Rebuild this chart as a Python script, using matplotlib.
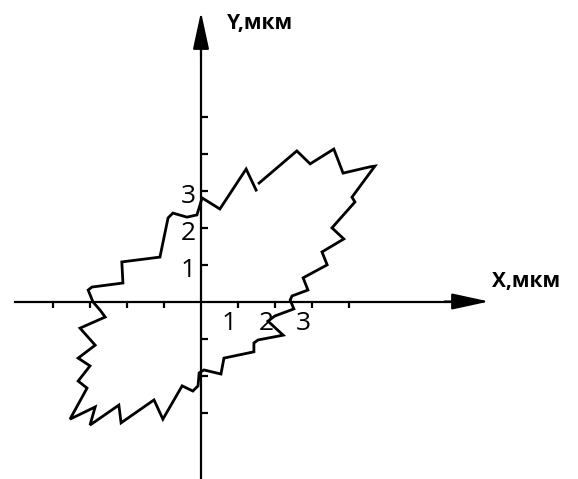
# %%
import numpy as np
import matplotlib
matplotlib.use("Agg")
import matplotlib.pyplot as plt
import matplotlib.transforms as mtransforms

# -------------------------------------------------------
#   контур частицы (мкм), обход по часовой стрелке,
#   начиная сразу после разрыва линии у верхнего края
# -------------------------------------------------------
contour_x = [1.57, 2.59, 2.95, 3.59, 3.84, 4.57, 4.70, 4.08, 4.16, 3.54,
             3.86, 3.27, 3.41, 2.76, 2.89, 2.46, 2.41, 2.51, 2.00, 1.81,
             2.22, 1.54, 1.43, 1.43, 0.62, 0.54, 0.08, -0.05, -0.08, -0.22,
             -0.51, -1.03, -1.27, -2.16, -2.22, -3.00, -2.86, -3.54, -3.08, -3.32,
             -3.00, -3.32, -2.86, -3.27, -2.59, -2.73, -2.92, -3.05, -2.95, -2.11,
             -2.14, -1.11, -0.89, -0.76, -0.38, -0.11, 0.03, 0.51, 1.22, 1.49]
contour_y = [3.20, 4.07, 3.72, 4.12, 3.47, 3.64, 3.66, 2.82, 2.69, 1.99,
             1.69, 1.34, 0.99, 0.64, 0.31, 0.15, 0.04, -0.20, -0.39, -0.53,
             -0.91, -1.04, -1.12, -1.36, -1.53, -1.96, -1.85, -1.93, -2.28, -2.42,
             -2.28, -3.18, -2.66, -3.28, -2.80, -3.34, -2.85, -3.18, -2.34, -2.15,
             -1.74, -1.53, -1.18, -0.72, -0.42, -0.23, -0.01, 0.31, 0.39, 0.50,
             1.07, 1.20, 2.26, 2.39, 2.28, 2.34, 2.80, 2.50, 3.58, 3.01]

x_ticks = [-4, -3, -2, -1, 1, 2, 3, 4]
y_ticks = [-3, -2, -1, 1, 2, 3, 4, 5]
labeled = [1, 2, 3]
x_label = "X,мкм"
y_label = "Y,мкм"

# -------------------------------------------------------
#   масштаб: 37 px на 1 мкм, начало координат в (201, 301.5) px
# -------------------------------------------------------
W, H, DPI = 578, 479, 100
PX = 37.0
ox, oy = 201.0, 301.5

fig = plt.figure(figsize=(W / DPI, H / DPI), dpi=DPI)
ax = fig.add_axes([0, 0, 1, 1])
ax.set_xlim(-ox / PX, (W - ox) / PX)
ax.set_ylim(-(H - oy) / PX, oy / PX)
ax.set_facecolor("white")

x_start, x_end = (15 - ox) / PX, (489 - ox) / PX
y_top = (oy - 12) / PX
y_bottom = -(H - oy) / PX

# оси через начало координат
for side in ["top", "right"]:
    ax.spines[side].set_visible(False)
ax.spines["bottom"].set_position(("data", 0))
ax.spines["left"].set_position(("data", 0))
ax.spines["bottom"].set_bounds(x_start, x_end - 0.5)
ax.spines["left"].set_bounds(y_bottom, y_top - 0.5)
for side in ["bottom", "left"]:
    ax.spines[side].set_linewidth(1.6)
    ax.spines[side].set_zorder(1)

arrow = dict(arrowstyle="-|>,head_length=2.3,head_width=0.5", mutation_scale=10,
             lw=1.5, color="black", shrinkA=0, shrinkB=0)
ax.annotate("", xy=(x_end, 0), xytext=(x_end - 1.2, 0), arrowprops=arrow)
ax.annotate("", xy=(0, y_top), xytext=(0, y_top - 1.2), arrowprops=arrow)

num_font = ["Liberation Sans Narrow", "Open Sans", "DejaVu Sans"]

ax.set_xticks(x_ticks, [str(t) if t in labeled else "" for t in x_ticks])
ax.set_yticks(y_ticks, [str(t) if t in labeled else "" for t in y_ticks])
ax.tick_params(axis="x", direction="out", length=4, width=1.6, pad=3, labelsize=19)
ax.tick_params(axis="y", direction="in", length=5, width=1.6, pad=4, labelsize=19)
for lab in ax.get_xticklabels() + ax.get_yticklabels():
    lab.set_family(num_font)
shift_x = mtransforms.ScaledTranslation(-9 / DPI, 0, fig.dpi_scale_trans)
shift_y = mtransforms.ScaledTranslation(0, -3 / DPI, fig.dpi_scale_trans)
for lab in ax.get_xticklabels():
    lab.set_transform(lab.get_transform() + shift_x)
for lab in ax.get_yticklabels():
    lab.set_transform(lab.get_transform() + shift_y)

# контур
ax.plot(contour_x, contour_y, color="black", lw=2.0, solid_joinstyle="miter", zorder=3)

# подписи осей
ax.text((492 - ox) / PX, (oy - 282) / PX, x_label, fontsize=15, fontweight="bold",
        family=["Open Sans", "DejaVu Sans"], ha="left", va="center")
ax.text((227 - ox) / PX, (oy - 23) / PX, y_label, fontsize=15, fontweight="bold",
        family=["Open Sans", "DejaVu Sans"], ha="left", va="center")

fig.savefig("out.png", dpi=DPI)
